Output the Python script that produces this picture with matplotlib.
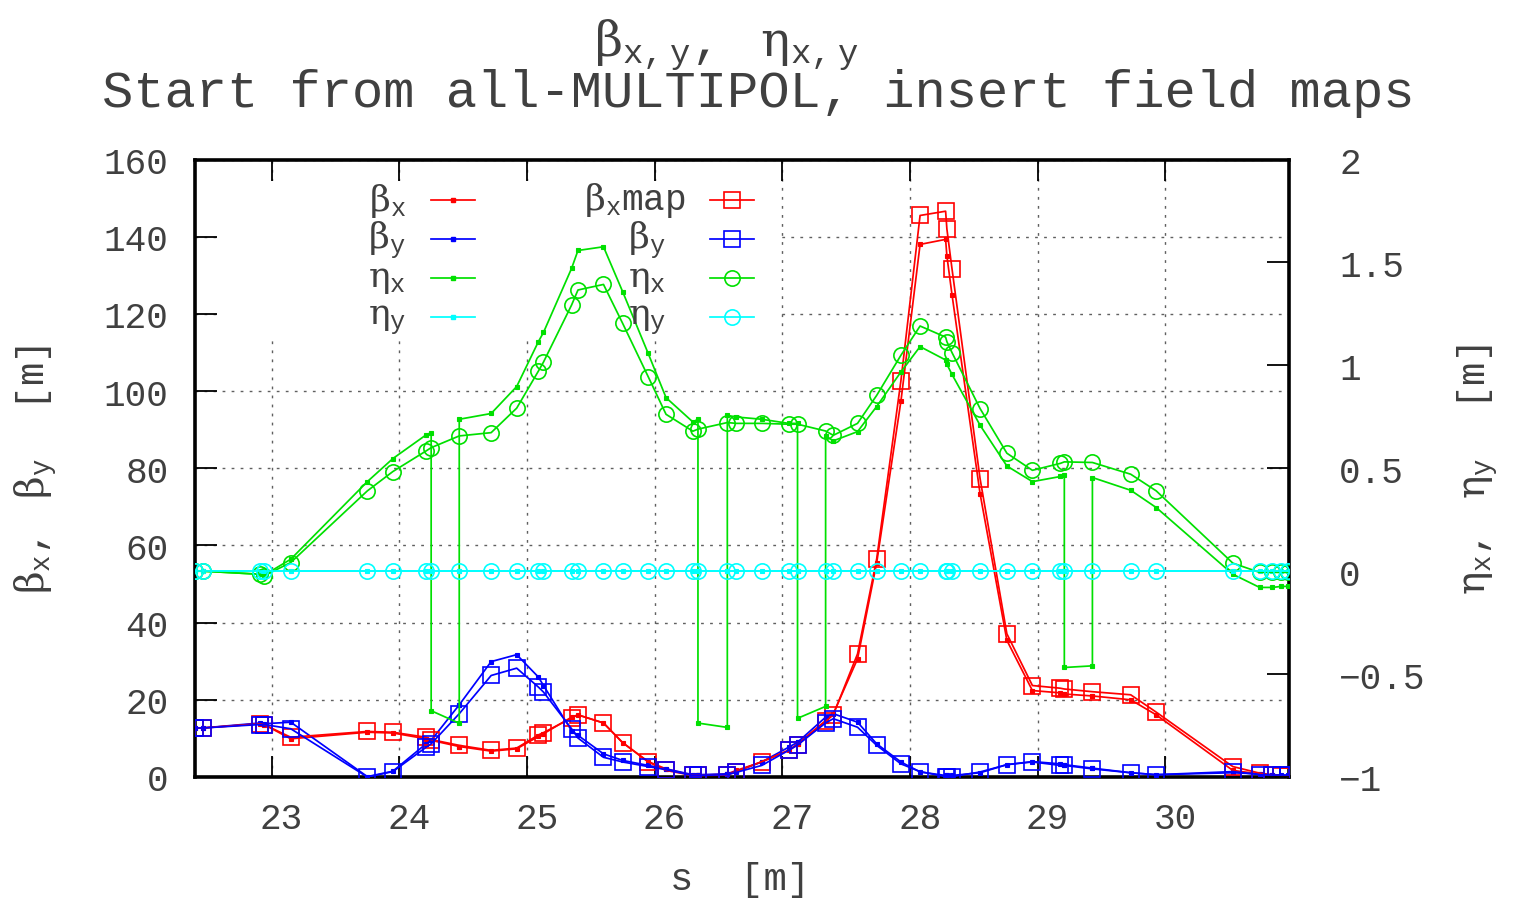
import matplotlib
matplotlib.use('Agg')
import matplotlib.pyplot as plt
import matplotlib.transforms as mtransforms
from matplotlib.patches import Rectangle
from matplotlib.lines import Line2D

plt.rcParams['font.family'] = ['Liberation Mono', 'DejaVu Sans']
plt.rcParams['mathtext.fontset'] = 'custom'
plt.rcParams['mathtext.rm'] = 'DejaVu Serif'
plt.rcParams['mathtext.it'] = 'DejaVu Serif:italic'
plt.rcParams['mathtext.bf'] = 'DejaVu Serif:bold'
plt.rcParams['mathtext.tt'] = 'Liberation Mono'
plt.rcParams['axes.unicode_minus'] = True

# ---------------- data ----------------
# lattice (MULTIPOL) optics: s positions (duplicates where eta_x jumps)
s_lat = [22.40, 22.46, 22.91, 22.94, 23.15, 23.75, 23.95, 24.21, 24.25, 24.25,
         24.47, 24.47, 24.72, 24.92, 25.09, 25.13, 25.35, 25.40, 25.60, 25.75,
         25.95, 26.09, 26.30, 26.34, 26.34, 26.57, 26.57, 26.64, 26.84, 27.05,
         27.12, 27.12, 27.34, 27.34, 27.40, 27.59, 27.74, 27.93, 28.08, 28.28,
         28.29, 28.33, 28.55, 28.76, 28.96, 29.18, 29.21, 29.21, 29.43, 29.43,
         29.73, 29.93, 30.53, 30.74, 30.84, 30.91, 30.96]
betax_lat = [12.7, 12.7, 13.8, 13.6, 9.9, 11.6, 11.4, 9.9, 9.5, 9.5,
             7.9, 7.9, 6.7, 7.3, 10.5, 11.2, 15.5, 16.1, 14.0, 8.9,
             4.0, 2.1, 0.4, 0.4, 0.4, 0.8, 0.8, 1.7, 3.9, 6.9,
             8.6, 8.6, 14.6, 14.6, 16.4, 30.6, 55.5, 97.4, 138.0, 139.3,
             135.0, 125.0, 73.4, 35.4, 22.4, 21.8, 21.5, 21.5, 21.0, 21.0,
             20.0, 16.1, 1.7, 0.8, 0.5, 0.3, 0.3]
betay_lat = [12.7, 12.7, 14.0, 13.8, 14.2, 0.1, 1.5, 8.6, 9.5, 9.5,
             18.7, 18.7, 29.9, 31.7, 25.9, 23.7, 12.0, 10.8, 6.0, 4.3,
             3.0, 2.1, 0.6, 0.6, 0.6, 0.8, 0.8, 1.4, 3.9, 7.7,
             9.0, 9.0, 15.5, 15.5, 16.4, 14.2, 8.6, 3.9, 1.3, 0.4,
             0.4, 0.4, 1.1, 3.2, 4.0, 3.4, 3.2, 3.2, 2.3, 2.3,
             1.1, 0.6, 1.1, 0.8, 0.6, 0.5, 0.4]
etax_lat = [0.0, 0.0, -0.015, -0.02, 0.058, 0.435, 0.547, 0.662, 0.673, -0.678,
            -0.739, 0.738, 0.766, 0.897, 1.115, 1.160, 1.471, 1.558, 1.576, 1.358,
            1.058, 0.843, 0.725, 0.738, -0.738, -0.759, 0.757, 0.749, 0.738, 0.718,
            0.718, -0.715, -0.657, 0.657, 0.633, 0.678, 0.800, 0.968, 1.091, 1.026,
            1.005, 0.956, 0.709, 0.511, 0.435, 0.460, 0.466, -0.468, -0.460, 0.455,
            0.393, 0.309, -0.015, -0.079, -0.079, -0.074, -0.074]
etay_lat = [0.0] * len(s_lat)

# field-map optics
s_map = [22.40, 22.46, 22.91, 22.94, 23.15, 23.75, 23.95, 24.21, 24.25, 24.47,
         24.72, 24.92, 25.09, 25.13, 25.35, 25.40, 25.60, 25.75, 25.95, 26.09,
         26.30, 26.34, 26.57, 26.64, 26.84, 27.05, 27.12, 27.34, 27.40, 27.59,
         27.74, 27.93, 28.08, 28.28, 28.29, 28.33, 28.55, 28.76, 28.96, 29.18,
         29.21, 29.43, 29.73, 29.93, 30.53, 30.74, 30.84, 30.91, 30.96]
betax_map = [12.7, 12.7, 13.8, 13.6, 10.3, 11.8, 11.6, 10.3, 9.7, 8.2,
             6.9, 7.5, 10.9, 11.5, 15.3, 16.1, 14.0, 8.9, 3.9, 1.7,
             0.4, 0.4, 0.5, 1.4, 4.0, 6.9, 8.3, 14.4, 16.1, 31.9,
             56.5, 102.7, 145.5, 146.6, 142.0, 131.7, 77.3, 37.1, 23.7, 23.0,
             22.8, 22.1, 21.3, 16.8, 2.7, 1.0, 0.5, 0.3, 0.2]
betay_map = [12.7, 12.7, 13.6, 13.6, 12.5, 0.0, 1.4, 7.7, 8.6, 16.4,
             26.3, 28.2, 23.3, 22.0, 12.5, 10.1, 5.1, 3.9, 2.7, 1.9,
             0.4, 0.4, 0.6, 1.2, 3.0, 6.9, 8.3, 14.0, 15.1, 12.9,
             8.2, 3.4, 1.4, 0.1, 0.1, 0.1, 1.3, 3.2, 3.9, 3.0,
             3.0, 2.1, 1.1, 0.6, 1.4, 0.6, 0.5, 0.5, 0.5]
etax_map = [0.0, 0.0, -0.015, -0.023, 0.042, 0.390, 0.484, 0.584, 0.600, 0.657,
            0.673, 0.792, 0.972, 1.016, 1.293, 1.366, 1.393, 1.204, 0.945, 0.762,
            0.680, 0.690, 0.722, 0.718, 0.718, 0.714, 0.714, 0.681, 0.660, 0.718,
            0.854, 1.049, 1.191, 1.137, 1.115, 1.062, 0.790, 0.573, 0.490, 0.524,
            0.531, 0.528, 0.471, 0.390, 0.039, -0.006, -0.006, -0.006, -0.006]
etay_map = [0.0] * len(s_map)

x_ticks = [23, 24, 25, 26, 27, 28, 29, 30]
y_ticks = [0, 20, 40, 60, 80, 100, 120, 140, 160]
y2_ticks = [-1, -0.5, 0, 0.5, 1, 1.5, 2]
y2_labels = ['\u22121', '\u22120.5', '0', '0.5', '1', '1.5', '2']

RED, BLUE, GREEN, CYAN = '#ff0000', '#0000ff', '#00e000', '#00ffff'
TXT = '#404040'

# ---------------- figure ----------------
W, H = 1514, 904
fig = plt.figure(figsize=(W / 100, H / 100), dpi=100)
ax = fig.add_axes([195 / W, 1 - 778 / H, (1289 - 195) / W, (778 - 160.5) / H])
ax2 = ax.twinx()

ax.set_xlim(22.40, 30.97)
ax.set_ylim(0, 160)
ax2.set_ylim(-1, 2)

ax.set_axisbelow(True)
ax.grid(True, color='#606060', linestyle=(0, (2.0, 4.5)), linewidth=1.0)
# opaque legend area
ax.add_patch(Rectangle((0.022, 0.709), 0.535 - 0.022, 0.965 - 0.709,
                       transform=ax.transAxes, facecolor='white',
                       edgecolor='none', zorder=1))

lw = 1.25
small = dict(marker='s', markersize=3.4, markeredgewidth=0.8)
ax.plot(s_lat, betax_lat, color=RED, lw=lw, zorder=3, **small)
ax.plot(s_lat, betay_lat, color=BLUE, lw=lw, zorder=3, **small)
ax.plot(s_map, betax_map, color=RED, lw=lw, marker='s', markersize=11,
        markerfacecolor='none', markeredgewidth=1.2, zorder=3)
ax.plot(s_map, betay_map, color=BLUE, lw=lw, marker='s', markersize=11,
        markerfacecolor='none', markeredgewidth=1.2, zorder=3)

ax2.plot(s_lat, etax_lat, color=GREEN, lw=lw, **small)
ax2.plot(s_lat, etay_lat, color=CYAN, lw=lw, **small)
ax2.plot(s_map, etax_map, color=GREEN, lw=lw, marker='o', markersize=11,
         markerfacecolor='none', markeredgewidth=1.2)
ax2.plot(s_map, etay_map, color=CYAN, lw=lw, marker='o', markersize=11,
         markerfacecolor='none', markeredgewidth=1.2)

# ticks
ax.set_xticks(x_ticks)
ax.set_xticklabels([str(t) for t in x_ticks])
ax.set_yticks(y_ticks)
ax.set_yticklabels([str(t) for t in y_ticks])
ax2.set_yticks(y2_ticks)
ax2.set_yticklabels(y2_labels)

ax.tick_params(axis='x', direction='in', length=15, width=1.3, top=True,
               bottom=True, labelsize=26, pad=17, labelcolor=TXT, color='black')
ax.tick_params(axis='y', direction='in', length=16, width=1.3, left=True,
               right=False, labelsize=26, pad=19, labelcolor=TXT, color='black')
ax2.tick_params(axis='y', direction='in', length=16, width=1.3, left=False,
                right=True, labelsize=26, pad=36, labelcolor=TXT, color='black')

off = mtransforms.ScaledTranslation(10 / 100, 0, fig.dpi_scale_trans)
for lab in ax.get_xticklabels():
    lab.set_transform(lab.get_transform() + off)

for sp in ax.spines.values():
    sp.set_linewidth(2.6)
for sp in ax2.spines.values():
    sp.set_visible(False)

# titles
def fxy(x, y):
    return x / W, 1 - y / H

fig.text(*fxy(726, 45),
         r'$\mathrm{\beta}_{\mathtt{x,y}}\mathtt{,\ \ }\mathrm{\eta}_{\mathtt{x,y}}$',
         ha='center', va='center', fontsize=35, color=TXT)
fig.text(*fxy(758, 94), 'Start from all-MULTIPOL, insert field maps',
         ha='center', va='center', fontsize=37.5, color=TXT)

# axis labels
fig.text(*fxy(740, 880), 's  [m]', ha='center', va='center', fontsize=28,
         color=TXT)
fig.text(*fxy(36, 470),
         r'$\mathrm{\beta}_{\mathtt{x}}\mathtt{,\ \ }\mathrm{\beta}_{\mathtt{y}}\mathtt{\ \ \ \ [m]}$',
         ha='center', va='center', rotation=90, fontsize=28, color=TXT)
fig.text(*fxy(1478, 470),
         r'$\mathrm{\eta}_{\mathtt{x}}\mathtt{,\ \ }\mathrm{\eta}_{\mathtt{y}}\mathtt{\ \ \ \ [m]}$',
         ha='center', va='center', rotation=90, fontsize=28, color=TXT)

# legend (manual, two columns)
rows_y = [201, 240, 279, 318]
col1 = [(r'$\mathrm{\beta}_{\mathtt{x}}$', RED),
        (r'$\mathrm{\beta}_{\mathtt{y}}$', BLUE),
        (r'$\mathrm{\eta}_{\mathtt{x}}$', GREEN),
        (r'$\mathrm{\eta}_{\mathtt{y}}$', CYAN)]
col2 = [(r'$\mathrm{\beta}_{\mathtt{x}}\mathtt{map}$', RED, 's', 686),
        (r'$\mathrm{\beta}_{\mathtt{y}}$', BLUE, 's', 666),
        (r'$\mathrm{\eta}_{\mathtt{x}}$', GREEN, 'o', 666),
        (r'$\mathrm{\eta}_{\mathtt{y}}$', CYAN, 'o', 666)]
for yy, (lab, c) in zip(rows_y, col1):
    fig.text(*fxy(406, yy), lab, ha='right', va='center', fontsize=26,
             color=TXT)
    x0, y0 = fxy(431, yy)
    x1, _ = fxy(475, yy)
    fig.add_artist(Line2D([x0, x1], [y0, y0], color=c, lw=lw,
                          transform=fig.transFigure))
    fig.add_artist(Line2D([(x0 + x1) / 2], [y0], color=c, marker='s',
                          markersize=3.4, transform=fig.transFigure))
for yy, (lab, c, m, xr) in zip(rows_y, col2):
    fig.text(*fxy(xr, yy), lab, ha='right', va='center', fontsize=26,
             color=TXT)
    x0, y0 = fxy(710, yy)
    x1, _ = fxy(754, yy)
    fig.add_artist(Line2D([x0, x1], [y0, y0], color=c, lw=lw,
                          transform=fig.transFigure))
    fig.add_artist(Line2D([(x0 + x1) / 2], [y0], color=c, marker=m,
                          markersize=11, markerfacecolor='none',
                          markeredgewidth=1.2, transform=fig.transFigure))

fig.savefig('out.png', dpi=100)
